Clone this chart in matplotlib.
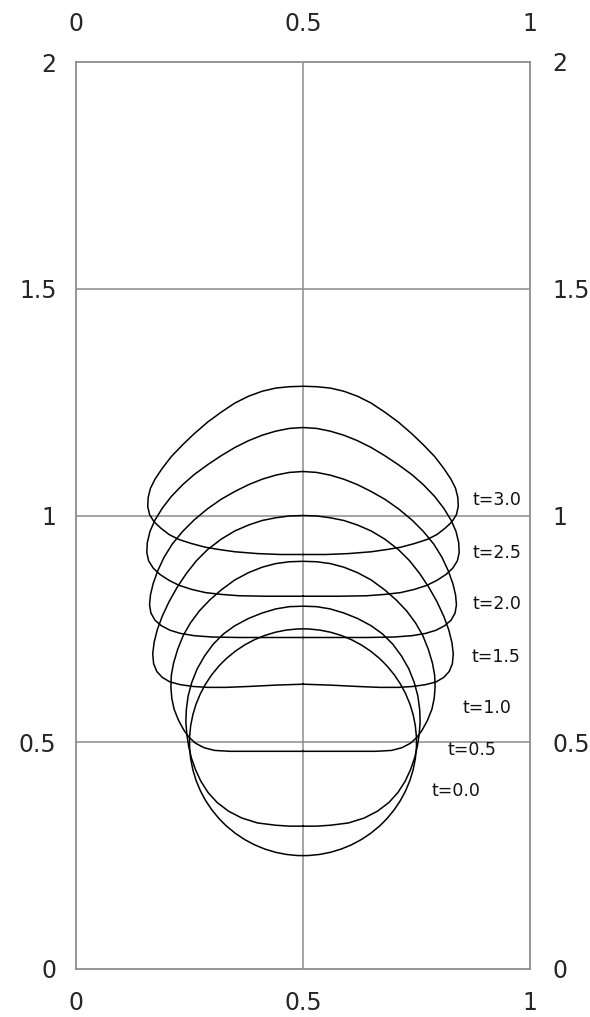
import matplotlib
matplotlib.use("Agg")
import matplotlib.pyplot as plt
from matplotlib.patches import Circle

# interface contours of the rising bubble, right half (x >= 0.5), top to bottom
x_t05 = [0.500, 0.530, 0.560, 0.590, 0.620, 0.650, 0.675, 0.698, 0.717, 0.733, 0.745, 0.753, 0.757,
         0.758, 0.756, 0.752, 0.746, 0.737, 0.725, 0.709, 0.689, 0.664, 0.635, 0.600, 0.560, 0.530, 0.500]
y_t05 = [0.800, 0.799, 0.794, 0.785, 0.773, 0.757, 0.739, 0.716, 0.690, 0.662, 0.632, 0.602, 0.572,
         0.545, 0.518, 0.492, 0.466, 0.440, 0.414, 0.389, 0.367, 0.348, 0.333, 0.322, 0.317, 0.315, 0.315]

x_t10 = [0.500, 0.530, 0.560, 0.590, 0.620, 0.650, 0.680, 0.705, 0.728, 0.748, 0.764, 0.776, 0.785,
         0.790, 0.791, 0.789, 0.784, 0.774, 0.762, 0.751, 0.737, 0.718, 0.695, 0.660, 0.500]
y_t10 = [0.899, 0.898, 0.894, 0.886, 0.874, 0.858, 0.836, 0.814, 0.790, 0.763, 0.735, 0.705, 0.675,
         0.648, 0.622, 0.597, 0.573, 0.548, 0.526, 0.511, 0.498, 0.488, 0.482, 0.480, 0.480]

x_t15 = [0.500, 0.530, 0.560, 0.590, 0.620, 0.650, 0.680, 0.710, 0.735, 0.757, 0.777, 0.795, 0.810,
         0.821, 0.828, 0.831, 0.829, 0.822, 0.810, 0.793, 0.770, 0.742, 0.710, 0.670, 0.620, 0.560, 0.500]
y_t15 = [1.000, 0.999, 0.995, 0.989, 0.979, 0.966, 0.948, 0.925, 0.900, 0.872, 0.842, 0.810, 0.778,
         0.748, 0.720, 0.695, 0.673, 0.656, 0.643, 0.633, 0.627, 0.623, 0.621, 0.621, 0.623, 0.626, 0.628]

x_t20 = [0.500, 0.530, 0.560, 0.590, 0.620, 0.650, 0.680, 0.710, 0.740, 0.765, 0.788, 0.806, 0.820,
         0.830, 0.836, 0.838, 0.835, 0.826, 0.812, 0.793, 0.770, 0.740, 0.700, 0.640, 0.500]
y_t20 = [1.097, 1.095, 1.089, 1.080, 1.068, 1.053, 1.036, 1.015, 0.990, 0.965, 0.937, 0.908, 0.878,
         0.850, 0.825, 0.803, 0.785, 0.769, 0.757, 0.747, 0.740, 0.735, 0.732, 0.731, 0.731]

x_t25 = [0.500, 0.530, 0.560, 0.590, 0.620, 0.650, 0.680, 0.710, 0.740, 0.765, 0.790, 0.810, 0.826,
         0.837, 0.843, 0.844, 0.840, 0.830, 0.815, 0.795, 0.773, 0.745, 0.715, 0.680, 0.640, 0.580, 0.500]
y_t25 = [1.194, 1.192, 1.186, 1.177, 1.165, 1.150, 1.132, 1.112, 1.090, 1.068, 1.042, 1.016, 0.990,
         0.965, 0.940, 0.918, 0.900, 0.884, 0.870, 0.857, 0.846, 0.837, 0.830, 0.826, 0.823, 0.822, 0.822]

x_t30 = [0.500, 0.530, 0.560, 0.590, 0.620, 0.650, 0.680, 0.710, 0.740, 0.765, 0.790, 0.810, 0.826,
         0.836, 0.841, 0.842, 0.838, 0.828, 0.813, 0.795, 0.773, 0.745, 0.715, 0.685, 0.650, 0.600, 0.550, 0.500]
y_t30 = [1.285, 1.284, 1.281, 1.274, 1.263, 1.248, 1.228, 1.206, 1.180, 1.156, 1.130, 1.104, 1.080,
         1.060, 1.040, 1.020, 1.002, 0.986, 0.972, 0.958, 0.947, 0.938, 0.930, 0.925, 0.920, 0.916, 0.914, 0.914]

# initial bubble: centre and radius
bubble0 = (0.5, 0.5, 0.25)

labels = ["t=3.0", "t=2.5", "t=2.0", "t=1.5", "t=1.0", "t=0.5", "t=0.0"]
label_x = [0.874, 0.874, 0.874, 0.872, 0.852, 0.819, 0.784]
label_y = [1.035, 0.918, 0.804, 0.687, 0.575, 0.482, 0.392]

ticks_x = [0, 0.5, 1]
ticks_y = [0, 0.5, 1, 1.5, 2]
tick_labels_x = ["0", "0.5", "1"]
tick_labels_y = ["0", "0.5", "1", "1.5", "2"]

plt.rcParams["font.family"] = ["DejaVu Sans"]

fig = plt.figure(figsize=(5.9, 10.17), dpi=100)
ax = fig.add_axes([76 / 590, 48 / 1017, 454 / 590, 907 / 1017])

grey = "#8c8c8c"
text_col = "#262626"
ax.set_xlim(0, 1)
ax.set_ylim(0, 2)
for x in ticks_x[1:-1]:
    ax.axvline(x, color=grey, lw=1.1, zorder=1)
for y in ticks_y[1:-1]:
    ax.axhline(y, color=grey, lw=1.1, zorder=1)
for s in ax.spines.values():
    s.set_color(grey)
    s.set_linewidth(1.3)

ax.add_patch(Circle(bubble0[:2], bubble0[2], fill=False, ec="black", lw=1.1, zorder=3))
for xs, ys in [(x_t05, y_t05), (x_t10, y_t10), (x_t15, y_t15),
               (x_t20, y_t20), (x_t25, y_t25), (x_t30, y_t30)]:
    # mirror the right half about x = 0.5
    full_x = [1 - v for v in xs[::-1]] + xs[1:]
    full_y = ys[::-1] + ys[1:]
    ax.plot(full_x, full_y, color="black", lw=1.1, zorder=3)

for txt, lx, ly in zip(labels, label_x, label_y):
    ax.text(lx, ly, txt, fontsize=12.5, color="#111111", ha="left", va="center")

# bottom / left labels
ax.set_xticks(ticks_x, tick_labels_x)
ax.set_yticks(ticks_y, tick_labels_y)
ax.tick_params(length=0, labelsize=17, colors=text_col)
ax.tick_params(axis="x", pad=15.5)
ax.tick_params(axis="y", pad=14)

# top / right labels
top = ax.secondary_xaxis("top")
top.set_xticks(ticks_x, tick_labels_x)
top.tick_params(length=0, labelsize=17, colors=text_col, pad=19)
top.spines["top"].set_visible(False)
right = ax.secondary_yaxis("right")
right.set_yticks(ticks_y, tick_labels_y)
right.tick_params(length=0, labelsize=17, colors=text_col, pad=16)
right.spines["right"].set_visible(False)

fig.savefig("out.png", dpi=100)
